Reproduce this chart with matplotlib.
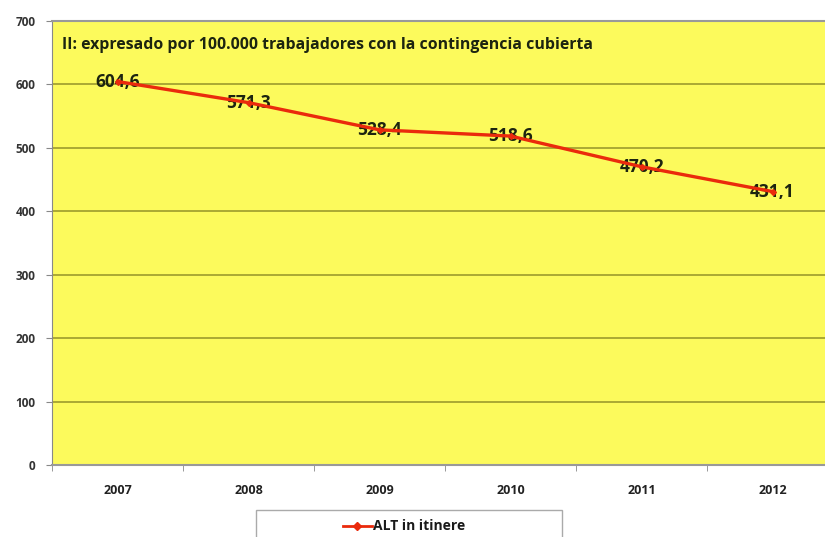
import matplotlib.pyplot as plt
import matplotlib.patches as mpatches
from matplotlib.lines import Line2D

years = ["2007", "2008", "2009", "2010", "2011", "2012"]
values = [604.6, 571.3, 528.4, 518.6, 470.2, 431.1]
labels = ["604,6", "571,3", "528,4", "518,6", "470,2", "431,1"]
yticks = [0, 100, 200, 300, 400, 500, 600, 700]

plt.rcParams['font.family'] = ['Open Sans', 'DejaVu Sans']

fig = plt.figure(figsize=(8.25, 5.37), dpi=100)
ax = fig.add_axes([52/825, 1 - 465/537, 786/825, (465-21)/537])
ax.set_facecolor('#fcfa5c')

x = list(range(len(years)))
for xi, v, lab in zip(x, values, labels):
    ax.text(xi, v, lab, ha='center', va='center', fontsize=12.5,
            fontweight='bold', color='#1c2410', zorder=3)
ax.plot(x, values, color='#ea2a0c', lw=2.4, marker='D', markersize=3,
        zorder=4, clip_on=False)

ax.set_xlim(-0.5, 5.5)
ax.set_ylim(0, 700)
ax.set_yticks(yticks)
ax.set_yticklabels([str(t) for t in yticks], fontsize=8.5, fontweight='bold',
                   color='#333333')
ax.set_xticks(x)
ax.set_xticklabels(years, fontsize=9, fontweight='bold', color='#222222')
ax.set_xticks([i + 0.5 for i in range(-1, 6)], minor=True)
ax.tick_params(axis='x', which='major', length=0, pad=14)
ax.tick_params(axis='x', which='minor', length=4, color='#888888',
               direction='out')
ax.tick_params(axis='y', length=4, color='#888888', pad=8)
ax.grid(axis='y', color='#9c9a2c', lw=1.2)
ax.set_axisbelow(True)
ax.spines['right'].set_visible(False)
ax.spines['top'].set_color('#999999')
ax.spines['top'].set_linewidth(1.5)
ax.spines['left'].set_color('#888888')
ax.spines['bottom'].set_color('#999999')
ax.spines['bottom'].set_linewidth(1.5)

fig.text(62/825, 1 - 45/537,
         "II: expresado por 100.000 trabajadores con la contingencia cubierta",
         fontsize=11.4, fontweight='bold', color='#1c2410', va='center')

# legend box
box = mpatches.Rectangle((256/825, -0.02), (562-256)/825, (537-510)/537 + 0.02,
                         transform=fig.transFigure, facecolor='white',
                         edgecolor='#aaaaaa', lw=1)
fig.patches.append(box)
fig.lines.append(Line2D([343/825, 372/825], [1 - 526/537] * 2,
                        transform=fig.transFigure, color='#ea2a0c', lw=2))
fig.lines.append(Line2D([357/825], [1 - 526/537], transform=fig.transFigure,
                        color='#ea2a0c', marker='D', markersize=4))
fig.text(373/825, 1 - 526/537, "ALT in itinere", fontsize=10,
         fontweight='bold', color='#1a1a1a', va='center')

fig.savefig('out.png', dpi=100)
